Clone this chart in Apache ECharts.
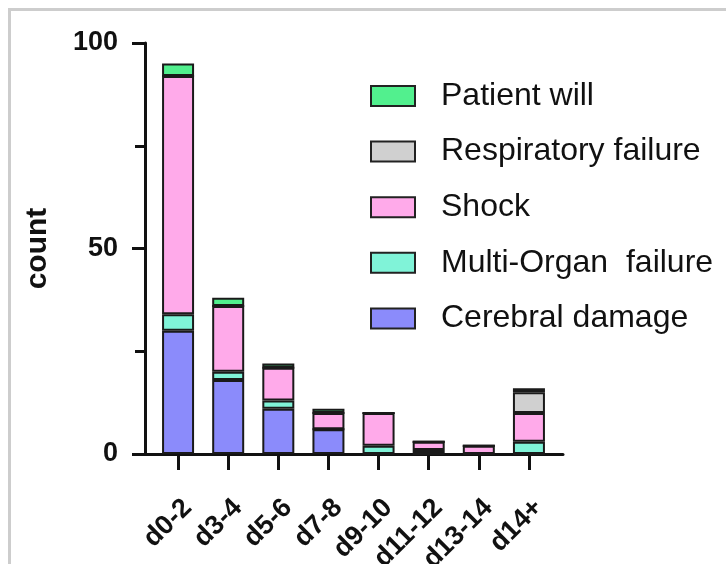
<!DOCTYPE html>
<html>
<head>
<meta charset="utf-8">
<script src="https://cdn.jsdelivr.net/npm/echarts@6/dist/echarts.min.js"></script>
<style>
  html, body { margin: 0; padding: 0; width: 726px; height: 564px; overflow: hidden; background: #fff; }
  #frame { position: absolute; left: 8px; top: 8px; width: 900px; height: 800px; border: 3px solid #cdcdcd; }
  #chart { position: absolute; left: 0; top: 0; width: 726px; height: 564px; }
</style>
</head>
<body>
<div id="frame"></div>
<div id="chart"></div>
<script>
// ---- data ----
const categories = ['d0-2', 'd3-4', 'd5-6', 'd7-8', 'd9-10', 'd11-12', 'd13-14', 'd14+'];
const cerebralDamage     = [30, 18, 11, 6, 0, 0, 0, 0];
const multiOrganFailure  = [4, 2, 2, 0, 2, 1, 0, 3];
const shock              = [58, 16, 8, 4, 8, 2, 2, 7];
const respiratoryFailure = [0, 0, 0, 0, 0, 0, 0, 5];
const patientWill        = [3, 2, 1, 1, 0, 0, 0, 1];
const yTicks = [0, 50, 100];
const legendOrder = ['Patient will', 'Respiratory failure', 'Shock', 'Multi-Organ  failure', 'Cerebral damage'];

const FONT = "'Liberation Sans', Arial, Helvetica, sans-serif";
const chart = echarts.init(document.getElementById('chart'), null, { renderer: 'canvas' });

const seriesDefs = [
  { name: 'Cerebral damage', data: cerebralDamage, color: '#8b8bfb' },
  { name: 'Multi-Organ  failure', data: multiOrganFailure, color: '#80f3d8' },
  { name: 'Shock', data: shock, color: '#ffaaea' },
  { name: 'Respiratory failure', data: respiratoryFailure, color: '#d0d0d0' },
  { name: 'Patient will', data: patientWill, color: '#52f08e' }
];

const option = {
  animation: false,
  backgroundColor: 'transparent',
  textStyle: { fontFamily: FONT },
  grid: [
    { left: 145, right: 163, top: 43, bottom: 110, containLabel: false, outerBoundsMode: 'none' },   // axis frame
    { left: 153, right: 172, top: 43, bottom: 110, containLabel: false, outerBoundsMode: 'none' }    // bars
  ],
  xAxis: [
    {
      gridIndex: 0, type: 'value', min: 0, max: 1,
      axisLine: { show: true, lineStyle: { color: '#111', width: 3 } },
      axisTick: { show: false }, axisLabel: { show: false }, splitLine: { show: false }
    },
    {
      gridIndex: 1, type: 'category', data: categories,
      axisLine: { show: false },
      axisTick: { show: true, alignWithLabel: true, length: 16, lineStyle: { color: '#111', width: 3 } },
      axisLabel: {
        rotate: 45, margin: 40, color: '#111', verticalAlign: 'top',
        fontFamily: FONT, fontWeight: 'bold', fontSize: 27, interval: 0
      },
      splitLine: { show: false }
    }
  ],
  yAxis: [
    {
      gridIndex: 0, type: 'value', min: 0, max: 100, interval: 50,
      name: 'count', nameLocation: 'middle', nameGap: 92,
      nameTextStyle: { fontFamily: FONT, fontWeight: 'bold', fontSize: 30, color: '#111' },
      axisLine: { show: true, lineStyle: { color: '#111', width: 3 } },
      axisTick: { show: true, length: 13, lineStyle: { color: '#111', width: 3 } },
      minorTick: { show: true, splitNumber: 2, length: 10, lineStyle: { color: '#111', width: 3 } },
      axisLabel: {
        margin: 27, color: '#111', fontFamily: FONT, fontWeight: 'bold', fontSize: 27,
        formatter: v => (yTicks.indexOf(v) >= 0 ? String(v) : '')
      },
      splitLine: { show: false }, minorSplitLine: { show: false }
    },
    {
      gridIndex: 1, type: 'value', min: 0, max: 100, interval: 50, show: false,
      splitLine: { show: false }
    }
  ],
  legend: {
    orient: 'vertical',
    left: 370, top: 80, padding: 0,
    itemWidth: 44, itemHeight: 20, itemGap: 23.6,
    icon: 'rect',
    data: legendOrder,
    textStyle: { fontFamily: FONT, fontSize: 32, color: '#111', padding: [0, 0, 0, 21] },
    itemStyle: { borderColor: '#222', borderWidth: 2 }
  },
  series: seriesDefs.map(s => ({
    name: s.name,
    type: 'bar',
    stack: 'total',
    xAxisIndex: 1, yAxisIndex: 1,
    barWidth: 32,
    data: s.data,
    itemStyle: { color: s.color, borderColor: '#1a1a1a', borderWidth: 2 },
    emphasis: { disabled: true }
  }))
};
chart.setOption(option);
</script>
</body>
</html>
